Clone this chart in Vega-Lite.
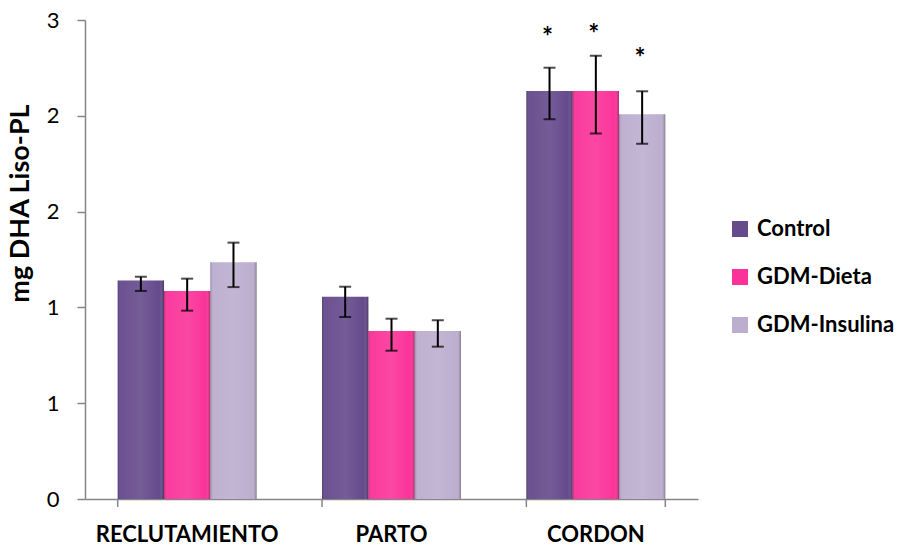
{
  "$schema": "https://vega.github.io/schema/vega-lite/v6.json",
  "width": 613,
  "height": 479,
  "autosize": "none",
  "padding": {"left": 85, "top": 20, "right": 206, "bottom": 48},
  "background": "white",
  "config": {"view": {"stroke": null}, "font": "Lato"},
  "data": {"values": [
    {"cat": "RECLUTAMIENTO", "grupo": "Control", "value": 1.14, "lo": 1.086, "hi": 1.16},
    {"cat": "RECLUTAMIENTO", "grupo": "GDM-Dieta", "value": 1.086, "lo": 0.983, "hi": 1.15},
    {"cat": "RECLUTAMIENTO", "grupo": "GDM-Insulina", "value": 1.235, "lo": 1.106, "hi": 1.338},
    {"cat": "PARTO", "grupo": "Control", "value": 1.056, "lo": 0.95, "hi": 1.108},
    {"cat": "PARTO", "grupo": "GDM-Dieta", "value": 0.877, "lo": 0.774, "hi": 0.941},
    {"cat": "PARTO", "grupo": "GDM-Insulina", "value": 0.877, "lo": 0.795, "hi": 0.933},
    {"cat": "CORDON", "grupo": "Control", "value": 2.13, "lo": 1.982, "hi": 2.251, "sig": "*", "sigy": 2.364},
    {"cat": "CORDON", "grupo": "GDM-Dieta", "value": 2.13, "lo": 1.907, "hi": 2.314, "sig": "*", "sigy": 2.38},
    {"cat": "CORDON", "grupo": "GDM-Insulina", "value": 2.008, "lo": 1.854, "hi": 2.128, "sig": "*", "sigy": 2.255}
  ]},
  "layer": [
    {
      "mark": {"type": "bar"},
      "encoding": {
        "x": {
          "field": "cat", "type": "nominal", "sort": ["RECLUTAMIENTO", "PARTO", "CORDON"],
          "scale": {"paddingInner": 0.32, "paddingOuter": 0.16},
          "axis": {"title": null, "labelAngle": 0, "ticks": false, "domain": true, "domainColor": "#868686", "domainWidth": 1.5,
                   "labelFontSize": 22, "labelFontWeight": "bold", "labelColor": "#000000", "labelPadding": 25, "labelFont": "Lato",
                   "labelLimit": 400, "labelOverlap": false}
        },
        "xOffset": {"field": "grupo", "type": "nominal", "sort": ["Control", "GDM-Dieta", "GDM-Insulina"], "scale": {"paddingInner": 0, "paddingOuter": 0}},
        "y": {"field": "value", "type": "quantitative",
              "scale": {"domain": [0, 2.5], "nice": false, "zero": true},
              "axis": {"title": "mg DHA  Liso-PL", "values": [0, 0.5, 1, 1.5, 2, 2.5], "labelExpr": "toString(round(datum.value))",
                       "grid": false, "domainColor": "#868686", "domainWidth": 1.5, "tickColor": "#868686", "tickWidth": 1.5, "tickSize": 8,
                       "labelFontSize": 22, "labelColor": "#000000", "labelPadding": 18, "labelFont": "Lato",
                       "titleFontSize": 27, "titleFontWeight": "bold", "titleColor": "#000000", "titleBaseline": "alphabetic",
                       "titleX": -57, "titleY": 183, "titleFont": "Lato"}},
        "color": {"field": "grupo", "type": "nominal", "sort": ["Control", "GDM-Dieta", "GDM-Insulina"],
                  "scale": {"range": ["#654a8c", "#fb3399", "#bcaecf"]},
                  "legend": {"title": null, "orient": "none", "legendX": 644, "legendY": 198, "symbolType": "square", "symbolSize": 256,
                             "symbolStrokeWidth": 0, "labelFontSize": 22, "labelFontWeight": "bold", "labelColor": "#000000",
                             "labelOffset": 6, "rowPadding": 26, "labelFont": "Lato"}}
      }
    },
    {
      "mark": {"type": "bar", "fill": {"gradient": "linear", "x1": 0, "y1": 0, "x2": 1, "y2": 0,
               "stops": [{"offset": 0, "color": "rgba(0,0,0,0.22)"}, {"offset": 0.07, "color": "rgba(255,255,255,0.04)"},
                         {"offset": 0.5, "color": "rgba(255,255,255,0.10)"}, {"offset": 0.9, "color": "rgba(255,255,255,0.0)"},
                         {"offset": 1, "color": "rgba(0,0,0,0.30)"}]}},
      "encoding": {
        "x": {"field": "cat", "type": "nominal", "sort": ["RECLUTAMIENTO", "PARTO", "CORDON"]},
        "xOffset": {"field": "grupo", "type": "nominal", "sort": ["Control", "GDM-Dieta", "GDM-Insulina"]},
        "y": {"field": "value", "type": "quantitative"}
      }
    },
    {
      "mark": {"type": "rule", "color": "#000000", "strokeWidth": 2},
      "encoding": {
        "x": {"field": "cat", "type": "nominal", "sort": ["RECLUTAMIENTO", "PARTO", "CORDON"]},
        "xOffset": {"field": "grupo", "type": "nominal", "sort": ["Control", "GDM-Dieta", "GDM-Insulina"]},
        "y": {"field": "lo", "type": "quantitative"}, "y2": {"field": "hi"}}
    },
    {
      "mark": {"type": "tick", "color": "#000000", "thickness": 2, "size": 12},
      "encoding": {
        "x": {"field": "cat", "type": "nominal", "sort": ["RECLUTAMIENTO", "PARTO", "CORDON"]},
        "xOffset": {"field": "grupo", "type": "nominal", "sort": ["Control", "GDM-Dieta", "GDM-Insulina"]},
        "y": {"field": "lo", "type": "quantitative"}}
    },
    {
      "mark": {"type": "tick", "color": "#000000", "thickness": 2, "size": 12},
      "encoding": {
        "x": {"field": "cat", "type": "nominal", "sort": ["RECLUTAMIENTO", "PARTO", "CORDON"]},
        "xOffset": {"field": "grupo", "type": "nominal", "sort": ["Control", "GDM-Dieta", "GDM-Insulina"]},
        "y": {"field": "hi", "type": "quantitative"}}
    },
    {
      "mark": {"type": "text", "fontSize": 26, "fontWeight": "bold", "color": "#000000", "baseline": "alphabetic", "font": "Lato", "dx": -2},
      "encoding": {
        "x": {"field": "cat", "type": "nominal", "sort": ["RECLUTAMIENTO", "PARTO", "CORDON"]},
        "xOffset": {"field": "grupo", "type": "nominal", "sort": ["Control", "GDM-Dieta", "GDM-Insulina"]},
        "y": {"field": "sigy", "type": "quantitative"}, "text": {"field": "sig"}}
    },
    {
      "data": {"values": [{"cat": "RECLUTAMIENTO"}, {"cat": "PARTO"}, {"cat": "CORDON"}]},
      "mark": {"type": "rule", "color": "#868686", "strokeWidth": 1.5},
      "encoding": {
        "x": {"field": "cat", "type": "nominal", "sort": ["RECLUTAMIENTO", "PARTO", "CORDON"], "bandPosition": 0},
        "y": {"datum": 0, "type": "quantitative"}, "y2": {"datum": -0.042}}
    },
    {
      "data": {"values": [{"cat": "CORDON"}]},
      "mark": {"type": "rule", "color": "#868686", "strokeWidth": 1.5},
      "encoding": {
        "x": {"field": "cat", "type": "nominal", "sort": ["RECLUTAMIENTO", "PARTO", "CORDON"], "bandPosition": 1},
        "y": {"datum": 0, "type": "quantitative"}, "y2": {"datum": -0.042}}
    }
  ]
}
